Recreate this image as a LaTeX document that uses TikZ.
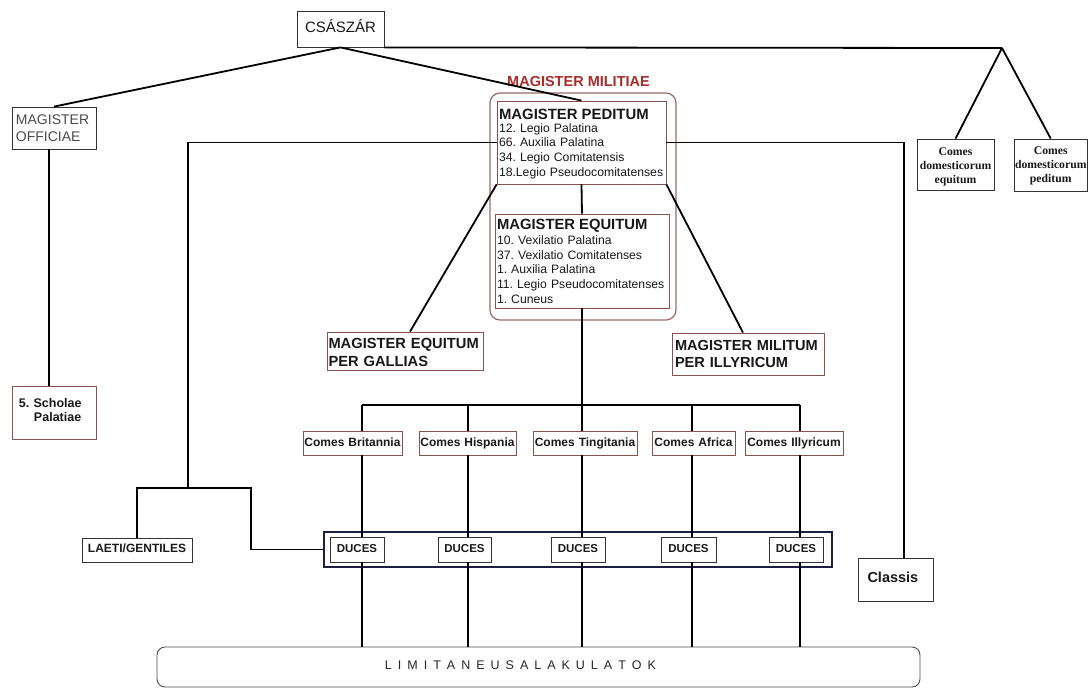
\documentclass[tikz,border=0pt]{standalone}
\usepackage{fontspec}
\setmainfont{Liberation Sans}
\newfontfamily\timesf{Liberation Serif}
\usetikzlibrary{calc}
\definecolor{brownline}{RGB}{135,85,75}
\definecolor{militred}{RGB}{170,45,45}
\definecolor{navyline}{RGB}{30,30,65}
\definecolor{outerline}{RGB}{150,110,100}
\definecolor{txt}{RGB}{25,25,25}
\newcommand\lsp{\hspace{6pt}}
\frenchspacing
\begin{document}
\frenchspacing
\begin{tikzpicture}[x=1pt,y=-1pt,
  conn/.style={line width=1.8pt, black},
  bx/.style={inner xsep=0pt, inner ysep=0pt, line width=0.8pt, text=txt},
  plain/.style={bx, draw=black!80},
  brownb/.style={bx, draw=brownline},
  comesbox/.style={brownb, align=center, text height=15pt, text depth=9pt,
    font=\fontsize{12}{14}\selectfont\bfseries},
  ducbox/.style={plain, align=center, text height=15pt, text depth=10pt,
    font=\fontsize{11.5}{14}\selectfont\bfseries},
  domesbox/.style={plain, align=center, font=\timesf\fontsize{11.7}{14}\selectfont\bfseries},
  listbox/.style={brownb, align=left, font=\fontsize{12.2}{14.75}\selectfont\frenchspacing},
  titlebox/.style={brownb, align=left, font=\fontsize{14.7}{17.7}\selectfont\bfseries}
]
\useasboundingbox (0,0) rectangle (1088,689);
\fill[white] (0,0) rectangle (1088,689);

% outer Magister Militiae frame
\node[draw=outerline, line width=1.2pt, rounded corners=10pt, minimum width=186pt,
  minimum height=227pt, inner sep=0pt] (militiae) at (583,206.5) {};
\node[anchor=base, text=militred, font=\fontsize{14.5}{16}\selectfont\bfseries]
  (militiaelabel) at (578.5,86) {MAGISTER MILITIAE};

% top
\node[plain, text width=87pt, align=center, text height=21pt, text depth=15pt,
  font=\fontsize{15}{18}\selectfont] (csaszar) at (340.5,29) {CSÁSZÁR};
\node[plain, text width=76pt, inner xsep=4pt, align=left, text height=17pt, text depth=25pt,
  text=black!70, font=\fontsize{14}{17.5}\selectfont] (officiae) at (54,128) {MAGISTER\\OFFICIAE};
\node[brownb, text width=70pt, inner xsep=7pt, align=left, text height=21pt, text depth=32pt,
  font=\fontsize{12.5}{14}\selectfont\bfseries\frenchspacing] (scholae) at (54,412.5) {5. Scholae\\\hspace*{15pt}Palatiae};

\node[domesbox, text width=77pt, text height=16pt, text depth=35pt] (cde) at (955.5,164.5)
  {Comes\\domesticorum\\equitum};
\node[domesbox, text width=73.5pt, text height=15pt, text depth=37pt] (cdp) at (1050.75,165)
  {Comes\\domesticorum\\peditum};

% magister peditum / equitum
\node[listbox, text width=165pt, inner xsep=2pt, text height=18.5pt, text depth=64.5pt]
  (peditum) at (581.5,142.5)
  {{\fontsize{14.9}{15}\selectfont\bfseries MAGISTER PEDITUM}\\[-2.1pt]
   12. Legio Palatina\\66. Auxilia Palatina\\34. Legio Comitatensis\\18.Legio Pseudocomitatenses};
\node[listbox, text width=170pt, inner xsep=2pt, text height=15pt, text depth=79pt]
  (equitum) at (582,261)
  {{\fontsize{14.8}{15}\selectfont\bfseries MAGISTER EQUITUM}\\[0.5pt]
   10. Vexilatio Palatina\\37. Vexilatio Comitatenses\\1. Auxilia Palatina\\11. Legio Pseudocomitatenses\\1. Cuneus};

\node[titlebox, text width=153pt, inner xsep=1.5pt, text height=16.3pt, text depth=21.7pt]
  (gallias) at (405,351) {MAGISTER EQUITUM\\PER GALLIAS};
\node[titlebox, text width=146pt, inner xsep=3pt, text height=17pt, text depth=25pt,
  font=\fontsize{14.6}{17.3}\selectfont\bfseries]
  (illyr) at (748,354) {MAGISTER MILITUM\\PER ILLYRICUM};

% comes row
\node[comesbox, text width=99pt] (comes1) at (352.5,443) {Comes Britannia};
\node[comesbox, text width=97pt] (comes2) at (467.5,443) {Comes Hispania};
\node[comesbox, text width=104pt] (comes3) at (585,443) {Comes Tingitania};
\node[comesbox, text width=83pt] (comes4) at (693.5,443) {Comes Africa};
\node[comesbox, text width=98pt] (comes5) at (794,443) {Comes Illyricum};

% duces row
\node[draw=navyline, line width=1.6pt, minimum width=508pt, minimum height=35pt, inner sep=0pt]
  (ducesbox) at (578,549.5) {};
\node[ducbox, text width=54pt] (duces1) at (357,549.5) {DUCES};
\node[ducbox, text width=53pt] (duces2) at (464.5,549.5) {DUCES};
\node[ducbox, text width=54pt] (duces3) at (578,549.5) {DUCES};
\node[ducbox, text width=55pt] (duces4) at (688.5,549.5) {DUCES};
\node[ducbox, text width=54pt] (duces5) at (796,549.5) {DUCES};

\node[plain, text width=110pt, align=center, text height=14pt, text depth=10pt,
  font=\fontsize{12}{14}\selectfont\bfseries] (laeti) at (137,550) {LAETI/GENTILES};
\node[plain, text width=56pt, inner xsep=9.5pt, align=left, text height=24pt, text depth=19pt,
  font=\fontsize{14.5}{16}\selectfont\bfseries] (classis) at (895.5,579.5) {Classis};

% limitaneus
\node[draw=black!70, line width=0.9pt, rounded corners=8pt, text width=763pt, inner sep=0pt,
  align=left, text height=22.3pt, text depth=17.7pt, text=black!85,
  font=\fontsize{12.5}{14}\selectfont] (limit) at (538.5,667)
  {\hspace*{228pt}L\lsp I\lsp M\lsp I\lsp T\lsp A\lsp N\lsp E\lsp U\lsp S\lsp A\lsp L\lsp A\lsp K\lsp U\lsp L\lsp A\lsp T\lsp O\lsp K};

% coordinates
\coordinate (apex) at (1002,48);
\coordinate (lj) at (188,488);
\coordinate (lr) at (251,488);
\coordinate (cr) at (904,142.5);
\coordinate (col1) at (362,405);
\coordinate (col2) at (468,405);
\coordinate (col3) at (582,405);
\coordinate (col4) at (692,405);
\coordinate (col5) at (800,405);

% connectors
\draw[conn] (csaszar.south) -- (officiae.north);
\draw[conn] (csaszar.south) -- (peditum.north);
\draw[conn] (csaszar.south east) -- (apex);
\draw[conn] (apex) -- (cde.north);
\draw[conn] (apex) -- (cdp.north);
\draw[conn] ([xshift=-5pt]officiae.south) -- ([xshift=-5pt]scholae.north);
\draw[conn] (peditum.west) -| (lj);
\draw[conn] (laeti.north) |- (lr) |- (ducesbox.west);
\draw[conn] (peditum.east) -- (cr) -- (cr |- classis.north);
\draw[conn] (peditum.south) -- (equitum.north);
\draw[conn] (peditum.south west) -- ([xshift=5pt]gallias.north);
\draw[conn] (peditum.south east) -- ([xshift=-5pt]illyr.north);
\draw[conn] (equitum.south) -- (col3);
\draw[conn] (col1) -- (col5);
\foreach \i in {1,...,5}{
  \draw[conn] (col\i) -- (col\i |- comes\i.north);
  \draw[conn] (col\i |- comes\i.south) -- (col\i |- duces\i.north);
  \draw[conn] (col\i |- duces\i.south) -- (col\i |- limit.north);
}
\end{tikzpicture}
\end{document}
